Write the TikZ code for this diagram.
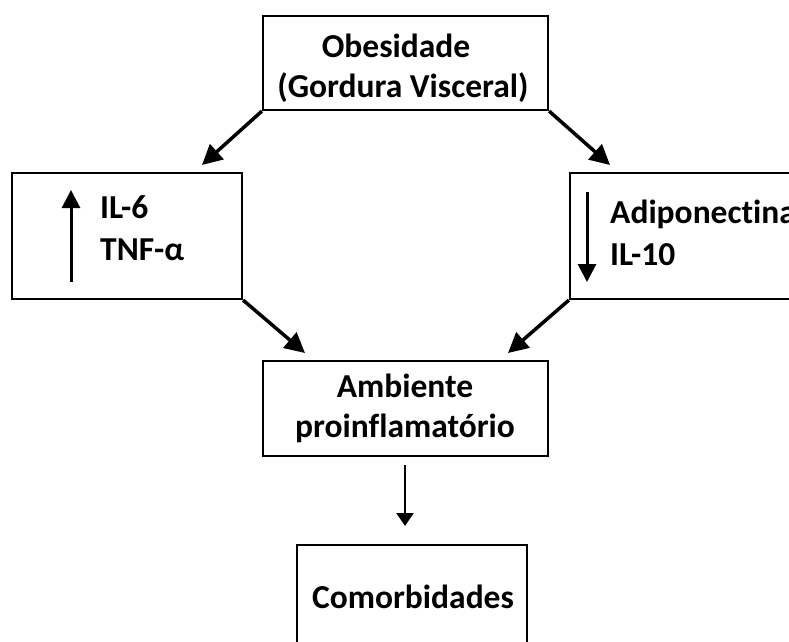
\documentclass[tikz,border=0pt]{standalone}
\usepackage{fontspec}
\setmainfont{Carlito}[Ligatures=NoCommon]
\usetikzlibrary{arrows.meta}
\begin{document}
\begin{tikzpicture}[x=1pt,y=-1pt,
  box/.style={draw=black,line width=2.2pt,rectangle,inner sep=0pt},
  lbl/.style={anchor=base,font=\fontsize{33.5}{40}\selectfont\bfseries,inner sep=0pt},
  lbll/.style={anchor=base west,font=\fontsize{33.5}{40}\selectfont\bfseries,inner sep=0pt},
  bigarrow/.style={line width=3.5pt,-{Triangle[length=20pt,width=20pt]}},
  inarrow/.style={line width=3pt,-{Triangle[length=18pt,width=18pt]}},
  smallarrow/.style={line width=2.2pt,-{Triangle[length=13pt,width=17pt]}}]
\useasboundingbox (0,0) rectangle (789,641);
\clip (0,0) rectangle (789,641);
\fill[white] (0,0) rectangle (789,641);
% boxes
\node[box,minimum width=285pt,minimum height=94pt] (top) at (405.5,63) {};
\node[box,minimum width=230pt,minimum height=126pt] (left) at (127,236) {};
\node[box,minimum width=260pt,minimum height=126pt] (right) at (700,236) {};
\node[box,minimum width=285pt,minimum height=95pt] (mid) at (405.5,408.5) {};
\node[box,minimum width=230pt,minimum height=135pt] (bot) at (412,612.5) {};
% texts
\node[lbl] (t1) at (396,57) {Obesidade};
\node[lbl] (t2) at (403,97) {(Gordura Visceral)};
\node[lbll] (l1) at (100,218) {IL-6};
\node[lbll] (l2) at (100,260) {TNF-α};
\node[lbll] (r1) at (610,223) {Adiponectina};
\node[lbll] (r2) at (610,265) {IL-10};
\node[lbl] (m1) at (405,397) {Ambiente};
\node[lbl] (m2) at (405,437) {proinflamatório};
\node[lbl] (b1) at (413,608) {Comorbidades};
% tips
\coordinate (tipL) at (202,165);
\coordinate (tipR) at (610,165);
\coordinate (tipML) at (305,353);
\coordinate (tipMR) at (508,353);
\coordinate (upS) at (71,282);
\coordinate (upE) at (71,190);
\coordinate (dnS) at (587,192);
\coordinate (dnE) at (587,282);
\coordinate (vS) at (405,465);
\coordinate (vE) at (405,526);
% connectors
\draw[bigarrow] (top.south west) -- (tipL);
\draw[bigarrow] (top.south east) -- (tipR);
\draw[bigarrow] (left.south east) -- (tipML);
\draw[bigarrow] (right.south west) -- (tipMR);
\draw[inarrow] (upS) -- (upE);
\draw[inarrow] (dnS) -- (dnE);
\draw[smallarrow] (vS) -- (vE);
\end{tikzpicture}
\end{document}
